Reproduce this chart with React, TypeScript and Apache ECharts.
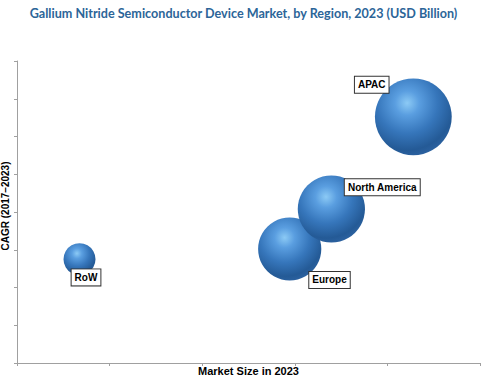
import React, { useEffect, useRef } from "react";
import * as echarts from "echarts";

const regions = ["RoW", "Europe", "North America", "APAC"];
const marketSize = [0.675, 2.945, 3.395, 4.28];
const cagr = [2.75, 3.02, 4.08, 6.52];
const bubbleValue = [0.8, 1.58, 1.68, 1.92];
const labelOffsets: [number, number][] = [
  [6.5, 18.2],
  [39.8, 30.9],
  [50.9, -21.7],
  [-41.6, -32.2],
];

const sphere = new echarts.graphic.RadialGradient(0.42, 0.32, 0.72, [
  { offset: 0, color: "#8ccaf5" },
  { offset: 0.22, color: "#5a9ee0" },
  { offset: 0.55, color: "#3676bb" },
  { offset: 0.85, color: "#245a96" },
  { offset: 1, color: "#2d63a2" },
]);

export default function App() {
  const ref = useRef<HTMLDivElement>(null);
  useEffect(() => {
    if (!ref.current) return;
    const chart = echarts.init(ref.current, null, { renderer: "svg" });
    const data = regions.map((r, i) => ({
      name: r,
      value: [marketSize[i], cagr[i], bubbleValue[i]],
      label: {
        show: true,
        position: "inside",
        offset: labelOffsets[i],
        formatter: "{b}",
        backgroundColor: "#ffffff",
        borderColor: "#333333",
        borderWidth: 1,
        padding: [2, 3, 2, 3],
        color: "#000000",
        fontFamily: "Liberation Sans",
        fontWeight: "bold",
        fontSize: 10,
        lineHeight: 12,
      },
    }));
    chart.setOption({
      animation: false,
      backgroundColor: "#ffffff",
      title: {
        text: "Gallium Nitride Semiconductor Device Market, by Region, 2023 (USD Billion)",
        left: "center",
        top: 2,
        textStyle: {
          color: "#2c6598",
          fontFamily: "Lato",
          fontWeight: "bold",
          fontSize: 12.6,
        },
      },
      grid: { left: 17, right: 7, top: 61, bottom: 17, outerBoundsMode: "none", containLabel: false },
      xAxis: {
        type: "value",
        min: 0,
        max: 5,
        interval: 1,
        name: "Market Size in 2023",
        nameLocation: "middle",
        nameGap: 2,
        nameTextStyle: {
          color: "#000",
          fontFamily: "Liberation Sans",
          fontWeight: "bold",
          fontSize: 11,
        },
        axisLine: { show: true, lineStyle: { color: "#a0a0a0", width: 1 } },
        axisTick: { show: true, length: 3, lineStyle: { color: "#a0a0a0" } },
        axisLabel: { show: false },
        splitLine: { show: false },
      },
      yAxis: {
        type: "value",
        min: 0,
        max: 8,
        interval: 1,
        name: "CAGR (2017–2023)",
        nameLocation: "middle",
        nameGap: 7,
        nameTextStyle: {
          color: "#000",
          fontFamily: "Liberation Sans",
          fontWeight: "bold",
          fontSize: 10,
          padding: [0, 0, 0, 12],
        },
        axisLine: { show: true, lineStyle: { color: "#a0a0a0", width: 1 } },
        axisTick: { show: true, length: 3, lineStyle: { color: "#a0a0a0" } },
        axisLabel: { show: false },
        splitLine: { show: false },
      },
      series: [
        {
          type: "scatter",
          data,
          symbolSize: (v: number[]) => v[2] * 40,
          itemStyle: { color: sphere, opacity: 1 },
          emphasis: { disabled: true },
        },
      ],
    });
    return () => chart.dispose();
  }, []);
  return <div ref={ref} style={{ width: 487, height: 380, position: "absolute", left: 0, top: 0 }} />;
}
